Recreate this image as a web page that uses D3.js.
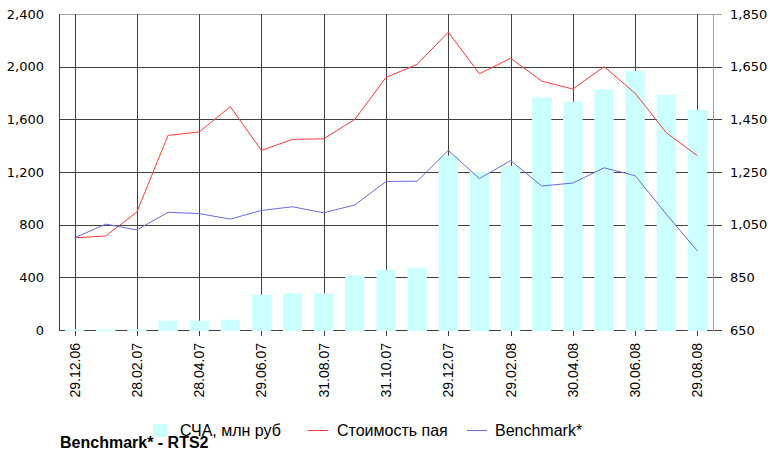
<!DOCTYPE html>
<html>
<head>
<meta charset="utf-8">
<script src="https://d3js.org/d3.v7.min.js"></script>
<style>
  body { margin: 0; background: #fff; }
  svg { display: block; }
  .num { font: 13px "DejaVu Sans", sans-serif; fill: #000; }
  .xl { font: 14px "Liberation Sans", Arial, sans-serif; fill: #000; }
  .leg { font: 16px "Liberation Sans", Arial, sans-serif; fill: #000; }
</style>
</head>
<body>
<div id="chart"></div>
<script>
var dates = ["29.12.06","31.01.07","28.02.07","30.03.07","28.04.07","31.05.07","29.06.07","31.07.07",
             "31.08.07","28.09.07","31.10.07","30.11.07","29.12.07","31.01.08","29.02.08","31.03.08",
             "30.04.08","30.05.08","30.06.08","31.07.08","29.08.08"];
// СЧА, млн руб (left axis)
var nav = [5, 5, 5, 71, 71, 78, 268, 279, 279, 413, 458, 473, 1324, 1200, 1245, 1767, 1734, 1828, 1969, 1787, 1673];
// Стоимость пая (right axis)
var unitPrice = [1000, 1007, 1098, 1389, 1402, 1498, 1332, 1374, 1376, 1450, 1609, 1659, 1781, 1623, 1682, 1595, 1565, 1650, 1549, 1399, 1312];
// Benchmark* (right axis)
var bench = [1000, 1052, 1030, 1097, 1092, 1071, 1104, 1118, 1095, 1125, 1214, 1215, 1332, 1225, 1293, 1197, 1208, 1266, 1236, 1090, 950];
var leftTicks = [0, 400, 800, 1200, 1600, 2000, 2400];
var rightTicks = [650, 850, 1050, 1250, 1450, 1650, 1850];

var W = 770, H = 451;
var pLeft = 59, pRight = 713, pTop = 14, pBottom = 330;

var svg = d3.select("#chart").append("svg").attr("width", W).attr("height", H);

var x = d3.scaleBand().domain(dates).range([pLeft, pRight]).padding(0);
var yL = d3.scaleLinear().domain([0, 2400]).range([pBottom, pTop]);
var yR = d3.scaleLinear().domain([650, 1850]).range([pBottom, pTop]);
var cx = function (d) { return x(d) + x.bandwidth() / 2; };
var shown = dates.filter(function (d, i) { return i % 2 == 0; });

// horizontal grid
svg.append("g").selectAll("line").data(leftTicks).enter().append("line")
  .attr("x1", pLeft).attr("x2", pRight + 9)
  .attr("y1", function (d) { return Math.round(yL(d)) + 0.5; })
  .attr("y2", function (d) { return Math.round(yL(d)) + 0.5; })
  .attr("stroke", function (d) { return d == 2400 ? "#a8a8a8" : "#404040"; })
  .attr("stroke-width", 1);

// vertical grid at labelled dates
svg.append("g").selectAll("line").data(shown).enter().append("line")
  .attr("x1", function (d) { return Math.round(cx(d)) + 0.5; })
  .attr("x2", function (d) { return Math.round(cx(d)) + 0.5; })
  .attr("y1", pTop).attr("y2", pBottom + 6)
  .attr("stroke", "#404040");

// axis lines
svg.append("line").attr("x1", pLeft + 0.5).attr("x2", pLeft + 0.5).attr("y1", pTop).attr("y2", pBottom + 1).attr("stroke", "#404040");
svg.append("line").attr("x1", pRight + 0.5).attr("x2", pRight + 0.5).attr("y1", pTop).attr("y2", pBottom + 1).attr("stroke", "#a0a0a0");

// bars
var bw = x.bandwidth() * 0.62;
svg.append("g").selectAll("rect").data(nav).enter().append("rect")
  .attr("x", function (d, i) { return cx(dates[i]) - bw / 2; })
  .attr("width", bw)
  .attr("y", function (d) { return yL(d); })
  .attr("height", function (d) { return yL(0) - yL(d) + 1; })
  .attr("fill", "#ccffff");

// lines
var line = d3.line()
  .x(function (d, i) { return cx(dates[i]); })
  .y(function (d) { return yR(d); });
svg.append("path").datum(unitPrice).attr("d", line)
  .attr("fill", "none").attr("stroke", "#ff3b3b").attr("stroke-width", 1);
svg.append("path").datum(bench).attr("d", line)
  .attr("fill", "none").attr("stroke", "#6a6ae0").attr("stroke-width", 1);

// left labels
svg.append("g").selectAll("text").data(leftTicks).enter().append("text")
  .attr("class", "num")
  .attr("x", 44).attr("y", function (d) { return yL(d); })
  .attr("dy", "0.36em").attr("text-anchor", "end")
  .text(function (d) { return d3.format(",")(d); });

// right labels
svg.append("g").selectAll("text").data(rightTicks).enter().append("text")
  .attr("class", "num")
  .attr("x", 730).attr("y", function (d) { return yR(d); })
  .attr("dy", "0.36em").attr("text-anchor", "start")
  .text(function (d) { return d3.format(",")(d); });

// x labels
svg.append("g").selectAll("text").data(shown).enter().append("text")
  .attr("class", "xl")
  .attr("transform", function (d) { return "translate(" + (cx(d) + 5) + "," + 343 + ") rotate(-90)"; })
  .attr("text-anchor", "end")
  .text(function (d) { return d; });

// legend
var lg = svg.append("g");
lg.append("rect").attr("x", 153).attr("y", 424).attr("width", 14).attr("height", 13).attr("fill", "#ccffff");
lg.append("text").attr("class", "leg").attr("x", 180).attr("y", 436).text("СЧА, млн руб");
lg.append("line").attr("x1", 308).attr("x2", 328).attr("y1", 430.5).attr("y2", 430.5).attr("stroke", "#ff3b3b");
lg.append("text").attr("class", "leg").attr("x", 337).attr("y", 436).text("Стоимость пая");
lg.append("line").attr("x1", 467).attr("x2", 487).attr("y1", 430.5).attr("y2", 430.5).attr("stroke", "#6a6ae0");
lg.append("text").attr("class", "leg").attr("x", 495).attr("y", 436).text("Benchmark*");

svg.append("text").attr("x", 60).attr("y", 448)
  .style("font", "bold 16px 'Liberation Sans', Arial, sans-serif")
  .text("Benchmark* - RTS2");
</script>
</body>
</html>
